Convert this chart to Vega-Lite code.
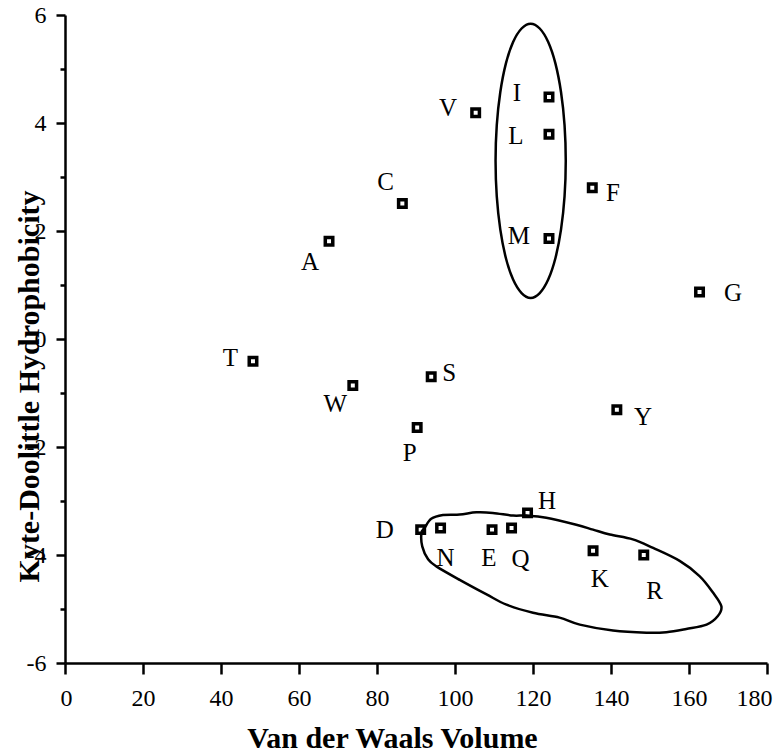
{
  "$schema": "https://vega.github.io/schema/vega-lite/v6.json",
  "width": 702,
  "height": 648,
  "autosize": "none",
  "padding": {"left": 65, "top": 15, "right": 14, "bottom": 89},
  "background": "white",
  "config": {
    "view": {"stroke": null},
    "font": "Liberation Serif",
    "axis": {
      "domainColor": "black", "domainWidth": 2.5,
      "tickColor": "black", "tickWidth": 2.5,
      "labelColor": "black", "titleColor": "black",
      "labelFont": "Liberation Serif", "titleFont": "Liberation Serif",
      "labelFontSize": 24, "titleFontSize": 30, "titleFontWeight": "bold",
      "grid": false
    }
  },
  "datasets": {
    "pts": [
      {"aa": "A", "vol": 67.7, "kd": 1.81, "lx": 62.8, "ly": 1.43},
      {"aa": "C", "vol": 86.5, "kd": 2.51, "lx": 82.2, "ly": 2.9},
      {"aa": "V", "vol": 105.3, "kd": 4.19, "lx": 98.2, "ly": 4.28},
      {"aa": "I", "vol": 124.1, "kd": 4.48, "lx": 115.9, "ly": 4.56},
      {"aa": "L", "vol": 124.1, "kd": 3.79, "lx": 115.6, "ly": 3.76},
      {"aa": "M", "vol": 124.1, "kd": 1.86, "lx": 116.4, "ly": 1.9},
      {"aa": "F", "vol": 135.2, "kd": 2.8, "lx": 140.5, "ly": 2.71},
      {"aa": "G", "vol": 162.7, "kd": 0.87, "lx": 171.3, "ly": 0.86},
      {"aa": "T", "vol": 48.2, "kd": -0.41, "lx": 42.4, "ly": -0.35},
      {"aa": "W", "vol": 73.8, "kd": -0.86, "lx": 69.3, "ly": -1.2},
      {"aa": "S", "vol": 93.9, "kd": -0.7, "lx": 98.5, "ly": -0.63},
      {"aa": "P", "vol": 90.3, "kd": -1.64, "lx": 88.4, "ly": -2.11},
      {"aa": "Y", "vol": 141.5, "kd": -1.31, "lx": 148.2, "ly": -1.44},
      {"aa": "D", "vol": 91.2, "kd": -3.53, "lx": 82.0, "ly": -3.53},
      {"aa": "N", "vol": 96.3, "kd": -3.5, "lx": 97.6, "ly": -4.05},
      {"aa": "E", "vol": 109.5, "kd": -3.53, "lx": 108.7, "ly": -4.05},
      {"aa": "Q", "vol": 114.5, "kd": -3.5, "lx": 116.8, "ly": -4.08},
      {"aa": "H", "vol": 118.6, "kd": -3.22, "lx": 123.6, "ly": -3.0},
      {"aa": "K", "vol": 135.4, "kd": -3.92, "lx": 137.1, "ly": -4.45},
      {"aa": "R", "vol": 148.4, "kd": -4.0, "lx": 151.2, "ly": -4.67}
    ],
    "ellipse": [
      {"i": 0, "ex": 128.4, "ey": 3.3},
      {"i": 1, "ex": 128.09, "ey": 3.96},
      {"i": 2, "ex": 127.19, "ey": 4.57},
      {"i": 3, "ex": 125.76, "ey": 5.1},
      {"i": 4, "ex": 123.9, "ey": 5.5},
      {"i": 5, "ex": 121.73, "ey": 5.75},
      {"i": 6, "ex": 119.4, "ey": 5.84},
      {"i": 7, "ex": 117.07, "ey": 5.75},
      {"i": 8, "ex": 114.9, "ey": 5.5},
      {"i": 9, "ex": 113.04, "ey": 5.1},
      {"i": 10, "ex": 111.61, "ey": 4.57},
      {"i": 11, "ex": 110.71, "ey": 3.96},
      {"i": 12, "ex": 110.4, "ey": 3.3},
      {"i": 13, "ex": 110.71, "ey": 2.64},
      {"i": 14, "ex": 111.61, "ey": 2.03},
      {"i": 15, "ex": 113.04, "ey": 1.5},
      {"i": 16, "ex": 114.9, "ey": 1.1},
      {"i": 17, "ex": 117.07, "ey": 0.85},
      {"i": 18, "ex": 119.4, "ey": 0.76},
      {"i": 19, "ex": 121.73, "ey": 0.85},
      {"i": 20, "ex": 123.9, "ey": 1.1},
      {"i": 21, "ex": 125.76, "ey": 1.5},
      {"i": 22, "ex": 127.19, "ey": 2.03},
      {"i": 23, "ex": 128.09, "ey": 2.64}
    ],
    "blob": [
      {"i": 0, "bx": 92.2, "by": -3.5},
      {"i": 1, "bx": 93.9, "by": -3.33},
      {"i": 2, "bx": 96.9, "by": -3.26},
      {"i": 3, "bx": 101.2, "by": -3.25},
      {"i": 4, "bx": 105.5, "by": -3.21},
      {"i": 5, "bx": 109.7, "by": -3.22},
      {"i": 6, "bx": 114.9, "by": -3.27},
      {"i": 7, "bx": 118.3, "by": -3.27},
      {"i": 8, "bx": 123.4, "by": -3.31},
      {"i": 9, "bx": 131.1, "by": -3.44},
      {"i": 10, "bx": 135.4, "by": -3.53},
      {"i": 11, "bx": 139.7, "by": -3.62},
      {"i": 12, "bx": 145.6, "by": -3.71},
      {"i": 13, "bx": 150.8, "by": -3.87},
      {"i": 14, "bx": 157.6, "by": -4.11},
      {"i": 15, "bx": 162.7, "by": -4.39},
      {"i": 16, "bx": 166.2, "by": -4.7},
      {"i": 17, "bx": 168.3, "by": -4.95},
      {"i": 18, "bx": 167.4, "by": -5.13},
      {"i": 19, "bx": 164.5, "by": -5.29},
      {"i": 20, "bx": 159.3, "by": -5.37},
      {"i": 21, "bx": 154.2, "by": -5.43},
      {"i": 22, "bx": 149.1, "by": -5.44},
      {"i": 23, "bx": 140.5, "by": -5.4},
      {"i": 24, "bx": 132.0, "by": -5.29},
      {"i": 25, "bx": 126.8, "by": -5.16},
      {"i": 26, "bx": 120.0, "by": -5.07},
      {"i": 27, "bx": 113.2, "by": -4.92},
      {"i": 28, "bx": 108.1, "by": -4.73},
      {"i": 29, "bx": 101.2, "by": -4.46},
      {"i": 30, "bx": 95.2, "by": -4.21},
      {"i": 31, "bx": 93.1, "by": -4.08},
      {"i": 32, "bx": 91.6, "by": -3.84},
      {"i": 33, "bx": 91.4, "by": -3.59}
    ]
  },
  "layer": [
    {
      "data": {"name": "pts"},
      "mark": {"type": "point", "shape": "square", "filled": false, "stroke": "black", "strokeWidth": 3.5, "size": 56, "opacity": 1},
      "encoding": {
        "x": {
          "field": "vol", "type": "quantitative",
          "scale": {"domain": [0, 180], "nice": false, "zero": false},
          "axis": {
            "values": [0, 10, 20, 30, 40, 50, 60, 70, 80, 90, 100, 110, 120, 130, 140, 150, 160, 170, 180],
            "labelExpr": "datum.value % 20 === 0 ? '' + datum.value : ''",
            "labelFont": "Liberation Serif",
            "labelFontSize": 24,
            "labelColor": "black",
            "tickSize": {"condition": {"test": "datum.value % 20 === 0", "value": 11}, "value": 6},
            "labelPadding": 12,
            "labelOverlap": false,
            "labelFlush": true,
            "labelFlushOffset": 5,
            "title": "Van der Waals Volume",
            "titleFont": "Liberation Serif",
            "titleFontSize": 30,
            "titleFontWeight": "bold",
            "titleX": 327,
            "titleY": 84,
            "titleBaseline": "alphabetic"
          }
        },
        "y": {
          "field": "kd", "type": "quantitative",
          "scale": {"domain": [-6, 6], "nice": false, "zero": false},
          "axis": {
            "values": [-6, -5, -4, -3, -2, -1, 0, 1, 2, 3, 4, 5, 6],
            "labelExpr": "datum.value % 2 === 0 ? '' + datum.value : ''",
            "labelFont": "Liberation Serif",
            "labelFontSize": 24,
            "labelColor": "black",
            "tickSize": {"condition": {"test": "datum.value % 2 === 0", "value": 9}, "value": 5},
            "labelPadding": 10,
            "labelOverlap": false,
            "labelFlush": false,
            "title": "Kyte-Doolittle Hydrophobicity",
            "titleFont": "Liberation Serif",
            "titleFontSize": 30,
            "titleFontWeight": "bold",
            "titleX": -27,
            "titleY": 371,
            "titleBaseline": "alphabetic",
            "titleAlign": "center"
          }
        }
      }
    },
    {
      "data": {"name": "pts"},
      "mark": {"type": "text", "font": "Liberation Serif", "fontSize": 25, "color": "black", "align": "center", "baseline": "middle"},
      "encoding": {
        "x": {"field": "lx", "type": "quantitative"},
        "y": {"field": "ly", "type": "quantitative"},
        "text": {"field": "aa"}
      }
    },
    {
      "data": {"name": "ellipse"},
      "mark": {"type": "line", "interpolate": "cardinal-closed", "color": "black", "strokeWidth": 2.5},
      "encoding": {
        "x": {"field": "ex", "type": "quantitative"},
        "y": {"field": "ey", "type": "quantitative"},
        "order": {"field": "i", "type": "quantitative"}
      }
    },
    {
      "data": {"name": "blob"},
      "mark": {"type": "line", "interpolate": "cardinal-closed", "color": "black", "strokeWidth": 2.5},
      "encoding": {
        "x": {"field": "bx", "type": "quantitative"},
        "y": {"field": "by", "type": "quantitative"},
        "order": {"field": "i", "type": "quantitative"}
      }
    }
  ]
}
